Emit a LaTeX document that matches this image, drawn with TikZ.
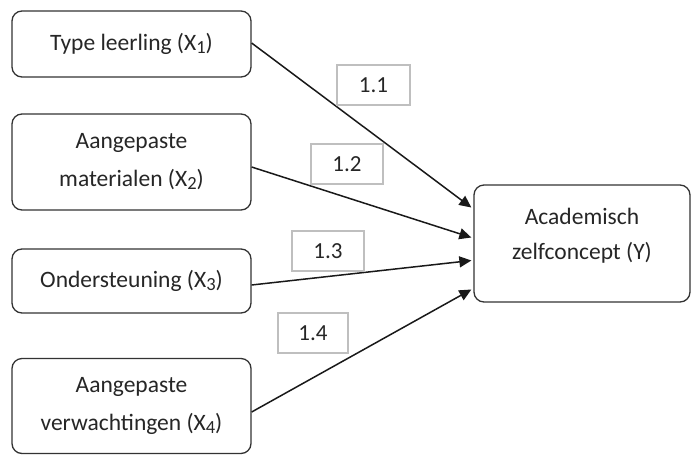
\documentclass[tikz,border=0pt]{standalone}
\usepackage{fontspec}
\setmainfont{Carlito}
\usetikzlibrary{arrows.meta,calc}
\newcommand{\idx}[1]{\raisebox{-0.22ex}{\fontsize{18.5}{18.5}\selectfont #1}}
\begin{document}
\begin{tikzpicture}[x=1pt,y=-1pt,
  varbox/.style={draw=black!80, line width=1.3pt, rounded corners=10pt, fill=white,
    inner sep=0pt, align=center, font=\fontsize{23.5}{38}\selectfont, text=black!85},
  vartext/.style={inner sep=0pt, align=center, font=\fontsize{23.5}{35}\selectfont, text=black!85},
  coefbox/.style={draw=black!25, line width=1.2pt, inner sep=0pt, text=black!85,
    font=\fontsize{23}{26}\selectfont},
  path/.style={draw=black!90, line width=1.5pt, -{Triangle[length=12pt,width=11pt]}}]
  \useasboundingbox (0,0) rectangle (691,456);

  % predictors
  \node[varbox, minimum width=239pt, minimum height=66pt] (x1) at (131.5,44) {Type leerling (X\idx{1})};
  \node[varbox, minimum width=239pt, minimum height=96pt] (x2) at (131.5,162) {Aangepaste\\materialen (X\idx{2})};
  \node[varbox, minimum width=239pt, minimum height=64pt] (x3) at (131.5,281) {Ondersteuning (X\idx{3})};
  \node[varbox, minimum width=239pt, minimum height=95pt, text height=54pt] (x4) at (131.5,406) {Aangepaste\\verwachtingen (X\idx{4})};

  % outcome
  \node[varbox, minimum width=216pt, minimum height=117pt] (y) at (582,243.5) {};
  \node[vartext] (ytext) at ($(y.center)+(0,-8)$) {Academisch\\zelfconcept (Y)};

  % arrow end points on the outcome box
  \coordinate (e1) at ($(y.west)+(-2,-36)$);
  \coordinate (e2) at ($(y.west)+(-2,-6)$);
  \coordinate (e3) at ($(y.west)+(-2,17)$);
  \coordinate (e4) at ($(y.west)+(-2,46)$);

  \draw[path] ($(x1.east)+(0,-1)$) -- (e1);
  \draw[path] ($(x2.east)+(0,5)$) -- (e2);
  \draw[path] ($(x3.east)+(0,4)$) -- (e3);
  \draw[path] ($(x4.east)+(0,6)$) -- (e4);

  % path coefficients
  \node[coefbox, minimum width=73pt, minimum height=40pt] (c1) at (373.5,85) {1.1};
  \node[coefbox, minimum width=72pt, minimum height=40pt] (c2) at (347,164) {1.2};
  \node[coefbox, minimum width=72pt, minimum height=40pt] (c3) at (328,251) {1.3};
  \node[coefbox, minimum width=70pt, minimum height=40pt] (c4) at (313,333) {1.4};
\end{tikzpicture}
\end{document}
